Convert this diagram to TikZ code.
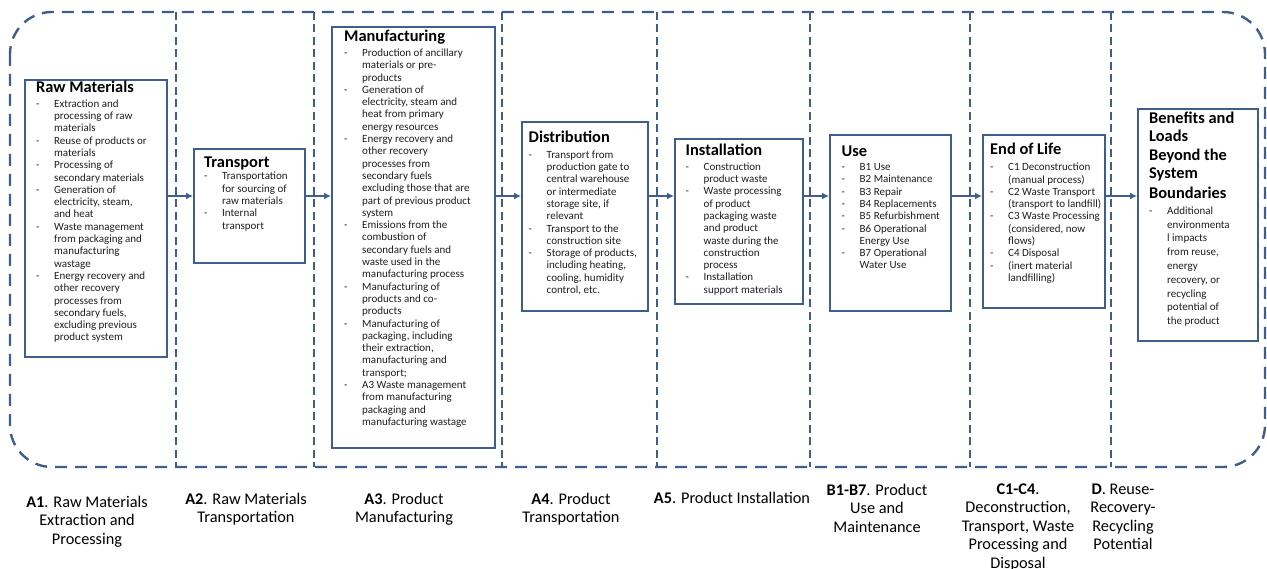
\documentclass[tikz,border=0pt]{standalone}
\usepackage{fontspec}
\setmainfont{Carlito}
\usetikzlibrary{arrows.meta}

\definecolor{frameblue}{HTML}{3E5F8C}
\definecolor{bodygray}{HTML}{1E1E1E}

\newcommand{\ttl}[1]{{\color{black}\fontsize{16.4}{18.5}\selectfont\bfseries #1}}
\newcommand{\dsh}{\makebox[18pt][l]{-}}
\newcommand{\ind}{\hspace*{18pt}}

\begin{document}
\begin{tikzpicture}[x=1pt,y=-1pt,
    border/.style={draw=frameblue,line width=2.4pt,dash pattern=on 12pt off 8pt},
    divider/.style={draw=frameblue,line width=2.4pt,dash pattern=on 8pt off 4.5pt},
    stage/.style={rectangle,draw=frameblue,line width=2pt,anchor=north west,inner sep=0pt},
    body/.style={anchor=north west,inner sep=0pt,align=left,text=bodygray,font=\fontsize{11}{12.3}\selectfont},
    flow/.style={draw=frameblue,line width=1.6pt,-{Latex[length=7pt,width=7pt]}},
    phase/.style={anchor=north,inner sep=0pt,align=center,font=\fontsize{16.3}{18.5}\selectfont},
]
\useasboundingbox (0,0) rectangle (1267,569);

%%%
% system boundary and module columns
\draw[border,rounded corners=42pt] (10,12) rectangle (1265,467);
\foreach \x in {176,314,502,657,810,970,1111}
    \draw[divider] (\x,12) -- (\x,467);

%%%
% stage boxes
\node[stage,minimum width=142pt,minimum height=277pt] (raw) at (24,79) {};
\node[stage,minimum width=111pt,minimum height=114pt] (trans) at (193,148) {};
\node[stage,minimum width=163pt,minimum height=421pt] (manu) at (331,26) {};
\node[stage,minimum width=126pt,minimum height=189pt] (dist) at (521,121) {};
\node[stage,minimum width=128pt,minimum height=165pt] (inst) at (674,138) {};
\node[stage,minimum width=121pt,minimum height=176pt] (use) at (829,134) {};
\node[stage,minimum width=122pt,minimum height=173pt] (eol) at (982,134) {};
\node[stage,minimum width=120pt,minimum height=232pt] (ben) at (1137,108) {};

%%%
% box contents
\node[body] (rawtext) at ([shift={(12pt,-2pt)}]raw.north west) {\ttl{Raw Materials}\\[2.2pt]
    \dsh Extraction and\\ \ind processing of raw\\ \ind materials\\
    \dsh Reuse of products or\\ \ind materials\\
    \dsh Processing of\\ \ind secondary materials\\
    \dsh Generation of\\ \ind electricity, steam,\\ \ind and heat\\
    \dsh Waste management\\ \ind from packaging and\\ \ind manufacturing\\ \ind wastage\\
    \dsh Energy recovery and\\ \ind other recovery\\ \ind processes from\\ \ind secondary fuels,\\ \ind excluding previous\\ \ind product system};
\node[body] (transtext) at ([shift={(11pt,-8.7pt)}]trans.north west) {\ttl{Transport}\\
    \dsh Transportation\\ \ind for sourcing of\\ \ind raw materials\\
    \dsh Internal\\ \ind transport};
\node[body] (manutext) at ([shift={(13pt,-3.7pt)}]manu.north west) {\ttl{Manufacturing}\\[2.7pt]
    \dsh Production of ancillary\\ \ind materials or pre-\\ \ind products\\
    \dsh Generation of\\ \ind electricity, steam and\\ \ind heat from primary\\ \ind energy resources\\
    \dsh Energy recovery and\\ \ind other recovery\\ \ind processes from\\ \ind secondary fuels\\ \ind excluding those that are\\ \ind part of previous product\\ \ind system\\
    \dsh Emissions from the\\ \ind combustion of\\ \ind secondary fuels and\\ \ind waste used in the\\ \ind manufacturing process\\
    \dsh Manufacturing of\\ \ind products and co-\\ \ind products\\
    \dsh Manufacturing of\\ \ind packaging, including\\ \ind their extraction,\\ \ind manufacturing and\\ \ind transport;\\
    \dsh A3 Waste management\\ \ind from manufacturing\\ \ind packaging and\\ \ind manufacturing wastage};
\node[body] (disttext) at ([shift={(7.5pt,-10pt)}]dist.north west) {\ttl{Distribution}\\[3.2pt]
    \dsh Transport from\\ \ind production gate to\\ \ind central warehouse\\ \ind or intermediate\\ \ind storage site, if\\ \ind relevant\\
    \dsh Transport to the\\ \ind construction site\\
    \dsh Storage of products,\\ \ind including heating,\\ \ind cooling, humidity\\ \ind control, etc.};
\node[body] (insttext) at ([shift={(11.5pt,-6pt)}]inst.north west) {\ttl{Installation}\\[2.2pt]
    \dsh Construction\\ \ind product waste\\
    \dsh Waste processing\\ \ind of product\\ \ind packaging waste\\ \ind and product\\ \ind waste during the\\ \ind construction\\ \ind process\\
    \dsh Installation\\ \ind support materials};
\node[body] (usetext) at ([shift={(12.5pt,-11.7pt)}]use.north west) {\ttl{Use}\\[1.7pt]
    \dsh B1 Use\\ \dsh B2 Maintenance\\ \dsh B3 Repair\\ \dsh B4 Replacements\\ \dsh B5 Refurbishment\\
    \dsh B6 Operational\\ \ind Energy Use\\ \dsh B7 Operational\\ \ind Water Use};
\node[body] (eoltext) at ([shift={(8pt,-9pt)}]eol.north west) {\ttl{End of Life}\\[3.7pt]
    \dsh C1 Deconstruction\\ \ind (manual process)\\ \dsh C2 Waste Transport\\ \ind (transport to landfill)\\
    \dsh C3 Waste Processing\\ \ind (considered, now\\ \ind flows)\\ \dsh C4 Disposal\\ \dsh (inert material\\ \ind landfilling)};
\node[body,font=\fontsize{11}{13.8}\selectfont] (bentext) at ([shift={(12pt,-3.7pt)}]ben.north west) {\ttl{Benefits and}\\[4.7pt]
    \ttl{Loads}\\[4.7pt] \ttl{Beyond the}\\[4.7pt] \ttl{System}\\[4.7pt] \ttl{Boundaries}\\[1.7pt]
    \dsh Additional\\ \ind environmenta\\ \ind l impacts\\ \ind from reuse,\\ \ind energy\\ \ind recovery, or\\ \ind recycling\\ \ind potential of\\ \ind the product};

%%%
% flow from stage to stage
\coordinate (flowline) at (0,196);
\draw[flow] (raw.east |- flowline) -- (trans.west |- flowline);
\draw[flow] (trans.east |- flowline) -- (manu.west |- flowline);
\draw[flow] (manu.east |- flowline) -- (dist.west |- flowline);
\draw[flow] (dist.east |- flowline) -- (inst.west |- flowline);
\draw[flow] (inst.east |- flowline) -- (use.west |- flowline);
\draw[flow] (use.east |- flowline) -- (eol.west |- flowline);
\draw[flow] (eol.east |- flowline) -- (ben.west |- flowline);

%%%
% module labels
\node[phase] (a1) at (87,495.6) {\textbf{A1}. Raw Materials\\ Extraction and\\ Processing};
\node[phase] (a2) at (246,492.6) {\textbf{A2}. Raw Materials\\ Transportation};
\node[phase] (a3) at (404,492.6) {\textbf{A3}. Product\\ Manufacturing};
\node[phase] (a4) at (571,492.6) {\textbf{A4}. Product\\ Transportation};
\node[phase] (a5) at (732,491.6) {\textbf{A5}. Product Installation};
\node[phase] (b) at (877,483.6) {\textbf{B1-B7}. Product\\ Use and\\ Maintenance};
\node[phase] (c) at (1018,483.6) {\textbf{C1-C4}.\\ Deconstruction,\\ Transport, Waste\\ Processing and\\ Disposal};
\node[phase] (d) at (1123,483.6) {\textbf{D}. Reuse-\\ Recovery-\\ Recycling\\ Potential};

\end{tikzpicture}
\end{document}
